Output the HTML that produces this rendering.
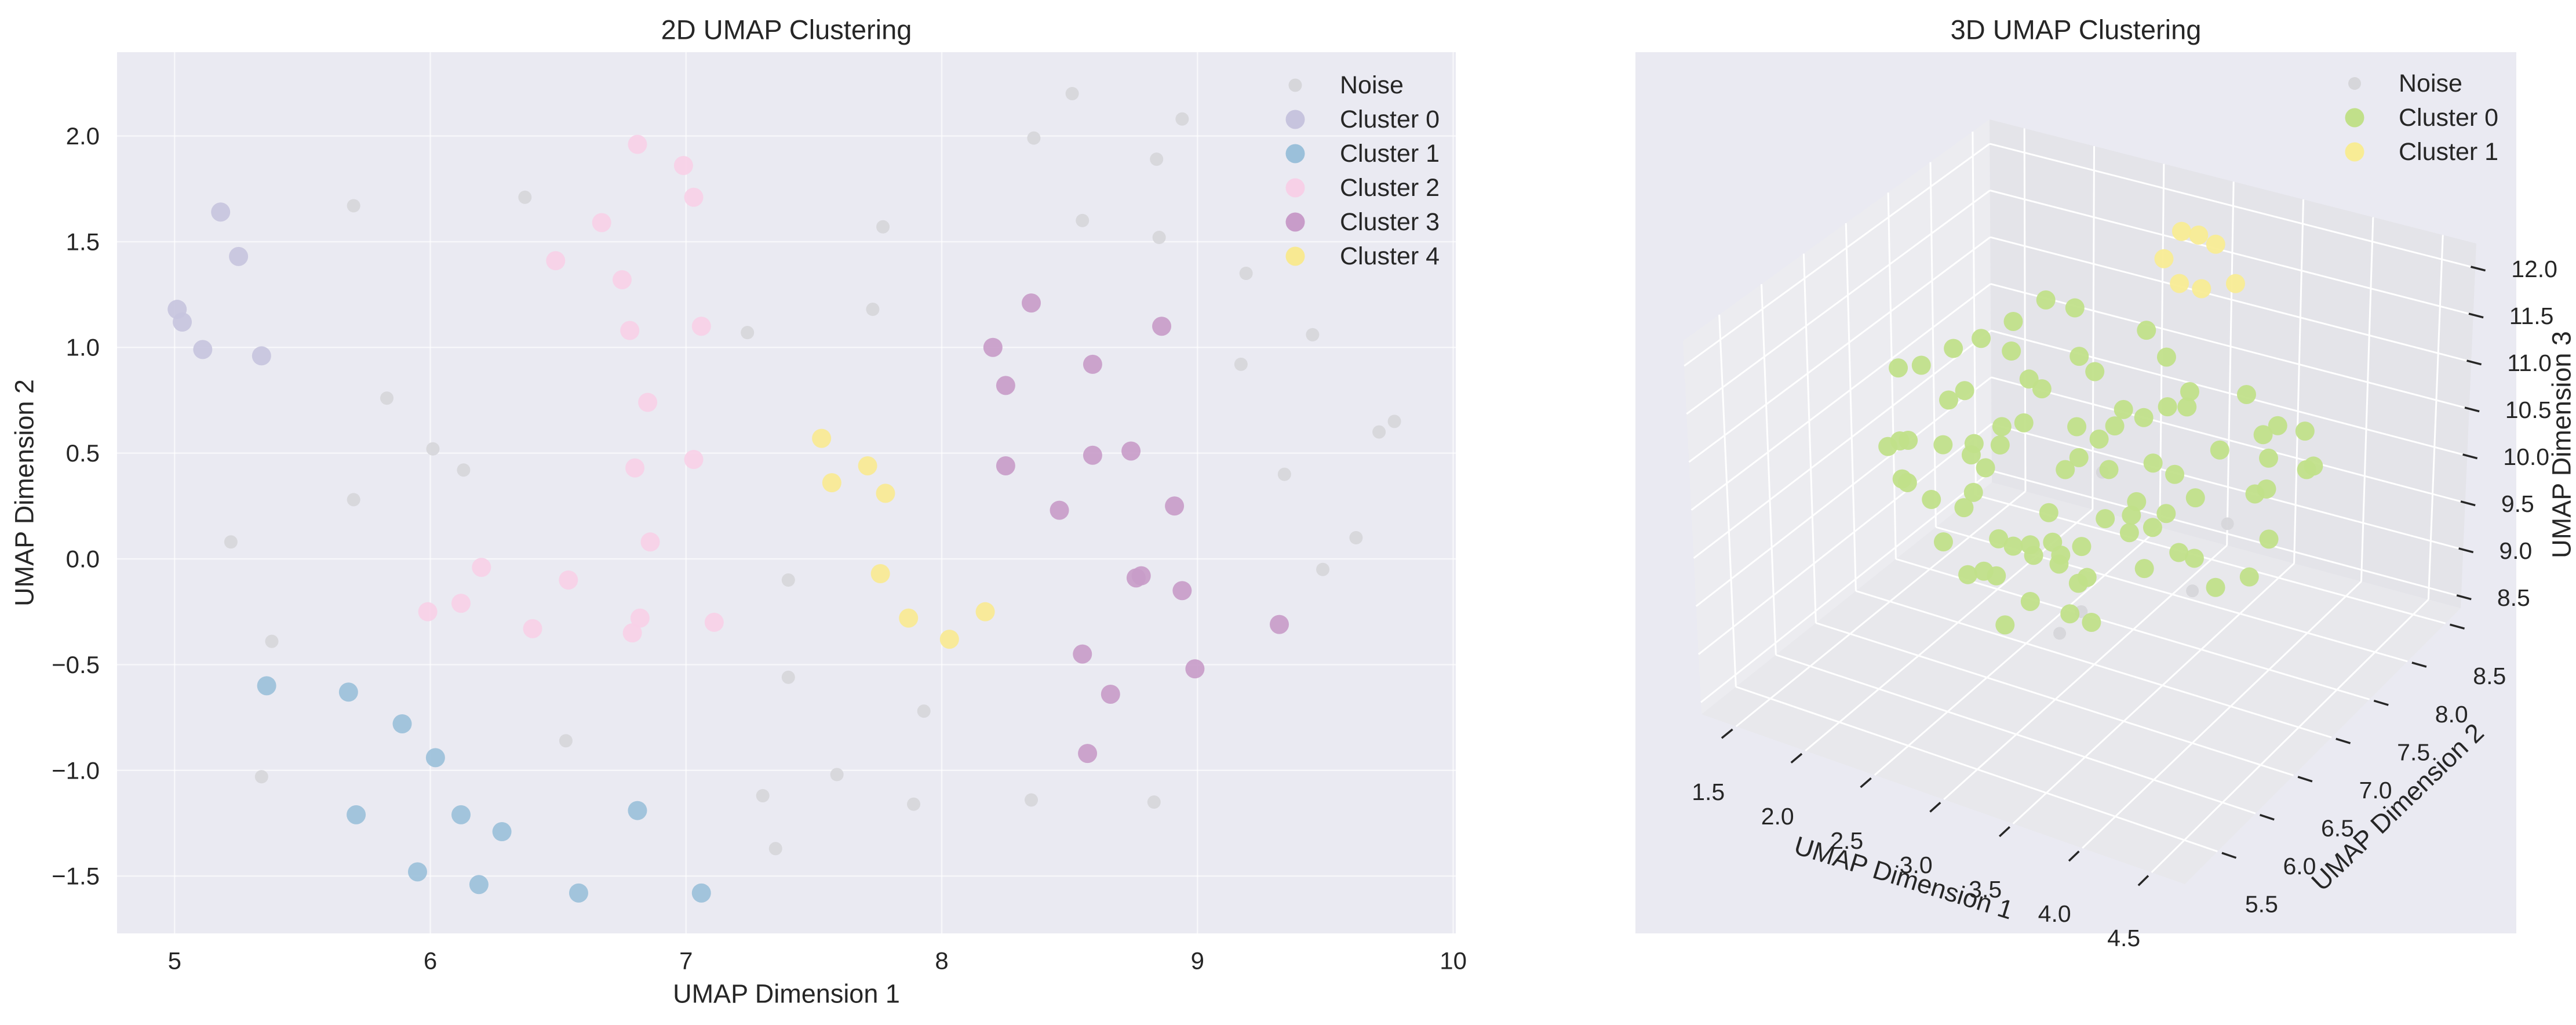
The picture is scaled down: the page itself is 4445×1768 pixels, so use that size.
<!DOCTYPE html>
<html><head><meta charset="utf-8"><title>UMAP Clustering</title>
<style>
html,body{margin:0;padding:0;background:#fff;}
svg{display:block;font-family:"Liberation Sans",sans-serif;}
</style></head>
<body>
<svg id="fig" width="4445" height="1768" viewBox="0 0 4445 1768" xmlns="http://www.w3.org/2000/svg">
  <rect x="0" y="0" width="4445" height="1768" fill="#ffffff"/>
  <g id="left"></g>
  <g id="right"></g>
</svg>
<script>
// ---------- 2D data ----------
const noiseX = [8.51,8.94,8.36,8.84,6.37,5.70,7.77,8.55,8.85,9.19,7.73,7.24,9.45,9.17,9.71,9.77,5.83,6.01,6.13,5.70,9.34,5.22,9.62,9.49,7.40,5.38,7.40,7.93,6.53,5.34,7.59,7.30,7.89,8.35,8.83,7.35];
const noiseY = [2.20,2.08,1.99,1.89,1.71,1.67,1.57,1.60,1.52,1.35,1.18,1.07,1.06,0.92,0.60,0.65,0.76,0.52,0.42,0.28,0.40,0.08,0.10,-0.05,-0.10,-0.39,-0.56,-0.72,-0.86,-1.03,-1.02,-1.12,-1.16,-1.14,-1.15,-1.37];
const c0X = [5.18,5.25,5.01,5.03,5.11,5.34];
const c0Y = [1.64,1.43,1.18,1.12,0.99,0.96];
const c1X = [5.36,5.68,5.89,6.02,5.71,6.12,6.28,6.81,5.95,6.19,6.58,7.06];
const c1Y = [-0.60,-0.63,-0.78,-0.94,-1.21,-1.21,-1.29,-1.19,-1.48,-1.54,-1.58,-1.58];
const c2X = [6.81,6.99,7.03,6.67,6.49,6.75,6.78,7.06,6.85,6.80,7.03,6.86,6.20,6.54,5.99,6.12,6.40,6.82,6.79,7.11];
const c2Y = [1.96,1.86,1.71,1.59,1.41,1.32,1.08,1.10,0.74,0.43,0.47,0.08,-0.04,-0.10,-0.25,-0.21,-0.33,-0.28,-0.35,-0.30];
const c3X = [8.35,8.86,8.20,8.59,8.25,8.59,8.74,8.25,8.46,8.91,8.76,8.78,8.94,9.32,8.55,8.99,8.66,8.57];
const c3Y = [1.21,1.10,1.00,0.92,0.82,0.49,0.51,0.44,0.23,0.25,-0.09,-0.08,-0.15,-0.31,-0.45,-0.52,-0.64,-0.92];
const c4X = [7.53,7.57,7.71,7.78,7.76,7.87,8.17,8.03];
const c4Y = [0.57,0.36,0.44,0.31,-0.07,-0.28,-0.25,-0.38];
const xTicks2 = [5,6,7,8,9,10];
const yTicks2 = [-1.5,-1.0,-0.5,0.0,0.5,1.0,1.5,2.0];
const legend2 = ["Noise","Cluster 0","Cluster 1","Cluster 2","Cluster 3","Cluster 4"];

// ---------- 3D data ----------
const g3X = [2.75,2.92,2.50,2.10,2.24,2.49,1.66,1.85,3.42,2.99,3.58,2.62,3.06,2.17,2.03,2.67,4.17,3.74,3.60,3.71,3.31,3.42,2.58,2.93,2.41,3.13,3.19,1.59,1.66,1.75,1.96,2.22,2.39,2.21,4.36,4.28,4.57,3.94,3.51,2.95,2.30,2.84,3.20,4.31,4.64,4.57,1.70,1.72,3.62,2.21,1.88,3.82,4.20,4.31,3.37,2.76,2.11,3.35,3.15,3.56,2.40,3.48,3.33,1.95,2.50,2.60,2.78,4.31,2.63,2.85,2.95,2.82,3.67,3.81,3.41,2.16,2.26,2.38,3.00,2.96,4.19,3.92,2.62,2.88,3.06,2.41];
const g3Y = [6.85,6.91,6.88,6.83,6.93,6.87,6.90,6.86,6.92,6.84,6.89,6.86,6.91,6.84,6.88,6.93,6.85,6.90,6.87,6.92,6.83,6.89,6.86,6.91,6.88,6.84,6.93,6.87,6.90,6.85,6.92,6.86,6.89,6.84,6.91,6.87,6.88,6.93,6.85,6.90,6.86,6.92,6.84,6.89,6.87,6.91,6.85,6.88,6.93,6.86,6.90,6.84,6.92,6.87,6.89,6.85,6.91,6.86,6.88,6.93,6.84,6.90,6.87,6.92,6.85,6.89,6.86,6.91,6.88,6.84,6.93,6.87,6.90,6.85,6.92,6.86,6.89,6.84,6.91,6.87,6.88,6.93,6.85,6.90,6.86,6.89];
const g3Z = [12.22,12.17,11.86,11.43,11.53,11.55,10.98,11.12,12.15,11.74,11.96,11.32,11.56,11.01,10.82,11.19,11.86,11.66,11.46,11.47,11.33,11.25,10.84,10.92,10.71,10.93,11.03,10.14,10.21,10.29,10.29,10.46,10.50,10.35,11.57,11.47,11.63,11.11,10.84,10.61,10.24,10.42,10.64,11.22,11.30,11.20,9.86,9.81,10.71,9.94,9.69,10.62,10.77,10.91,10.34,9.98,9.70,10.21,10.07,10.27,9.55,10.11,10.01,9.26,9.51,9.54,9.67,10.35,9.45,9.58,9.65,9.45,9.93,9.97,9.63,9.05,9.11,9.15,9.36,9.31,9.92,9.65,8.98,8.93,8.95,8.61];
const n3X = [3.13,4.04,3.77,2.98,2.81];
const n3Y = [6.88,6.86,6.90,6.87,6.89];
const n3Z = [10.55,10.43,9.57,9.02,8.70];
const y3X = [2.93,3.04,3.18,2.80,2.93,3.06,3.32];
const y3Y = [8.19,8.21,8.18,8.20,8.17,8.22,8.19];
const y3Z = [12.07,12.06,12.04,11.72,11.53,11.49,11.67];
const xTicks3 = [1.5,2.0,2.5,3.0,3.5,4.0,4.5];
const yTicks3 = [5.5,6.0,6.5,7.0,7.5,8.0,8.5];
const zTicks3 = [8.5,9.0,9.5,10.0,10.5,11.0,11.5,12.0];
const legend3 = ["Noise","Cluster 0","Cluster 1"];

const NS = "http://www.w3.org/2000/svg";
function mk(tag, attrs, parent){
  const e = document.createElementNS(NS, tag);
  for (const k in attrs) e.setAttribute(k, attrs[k]);
  parent.appendChild(e);
  return e;
}
const TXT = "#262626";

// ================= 2D chart =================
const L = document.getElementById('left');
const AX = {x0:202, x1:2512, y0:90, y1:1610};
const XL2 = [4.775, 10.01], YL2 = [-1.771, 2.396];
function sx(v){ return AX.x0 + (v - XL2[0]) / (XL2[1] - XL2[0]) * (AX.x1 - AX.x0); }
function sy(v){ return AX.y1 - (v - YL2[0]) / (YL2[1] - YL2[0]) * (AX.y1 - AX.y0); }

let el = mk('rect', {x:AX.x0, y:AX.y0, width:AX.x1-AX.x0, height:AX.y1-AX.y0, fill:'#eaeaf2'}, L);



xTicks2.forEach(t => {
  const g = mk('line', {x1:sx(t), x2:sx(t), y1:AX.y0, y2:AX.y1, stroke:'#ffffff', 'stroke-width':2.5, 'stroke-opacity':0.6}, L);
  
  
  const tl = mk('text', {x:sx(t), y:1657, 'font-size':42, fill:TXT, 'text-anchor':'middle', 'dominant-baseline':'central'}, L);
  tl.textContent = String(t);
  
  
});
yTicks2.forEach(t => {
  const g = mk('line', {x1:AX.x0, x2:AX.x1, y1:sy(t), y2:sy(t), stroke:'#ffffff', 'stroke-width':2.5, 'stroke-opacity':0.6}, L);
  
  
  const tl = mk('text', {x:172, y:sy(t), 'font-size':42, fill:TXT, 'text-anchor':'end', 'dominant-baseline':'central'}, L);
  tl.textContent = t.toFixed(1).replace('-', '\u2212');
  
  
});

const series2 = [
  {xs:noiseX, ys:noiseY, r:11.5, fill:'#d6d6da', name:'noise-point'},
  {xs:c0X, ys:c0Y, r:16.5, fill:'#c7c4de', name:'cluster-0-point'},
  {xs:c1X, ys:c1Y, r:16.5, fill:'#9bc0da', name:'cluster-1-point'},
  {xs:c2X, ys:c2Y, r:16.5, fill:'#f7d0e7', name:'cluster-2-point'},
  {xs:c3X, ys:c3Y, r:16.5, fill:'#c89cc9', name:'cluster-3-point'},
  {xs:c4X, ys:c4Y, r:16.5, fill:'#f8e992', name:'cluster-4-point'}
];
series2.forEach(s => {
  s.xs.forEach((xv, i) => {
    const c = mk('circle', {cx:sx(xv), cy:sy(s.ys[i]), r:s.r, fill:s.fill, 'fill-opacity':0.92}, L);
    
    
  });
});

legend2.forEach((lab, i) => {
  const y = 147 + i * 59;
  const m = mk('circle', {cx:2235, cy:y, r:series2[i].r, fill:series2[i].fill}, L);
  
  
  const t = mk('text', {x:2312, y:y, 'font-size':43, fill:TXT, 'dominant-baseline':'central'}, L);
  t.textContent = lab;
  
  
});

el = mk('text', {x:1357, y:51, 'font-size':47, fill:TXT, 'text-anchor':'middle', 'dominant-baseline':'central'}, L);
el.textContent = '2D UMAP Clustering';


el = mk('text', {x:1357, y:1714, 'font-size':45, fill:TXT, 'text-anchor':'middle', 'dominant-baseline':'central'}, L);
el.textContent = 'UMAP Dimension 1';


el = mk('text', {x:0, y:0, 'font-size':45, fill:TXT, 'text-anchor':'middle', 'dominant-baseline':'central', transform:'translate(42,850) rotate(-90)'}, L);
el.textContent = 'UMAP Dimension 2';



// ================= 3D chart =================
const R = document.getElementById('right');
el = mk('rect', {x:2822, y:90, width:1520, height:1520, fill:'#eaeaf2'}, R);



const XL3 = [1.25, 4.74], YL3 = [5.07, 8.70], ZL3 = [8.376, 12.26];
const K = {A:[2936,1232], B:[3770,1525], C:[4246,1049], D:[3437,832],
           A2:[2904,588], B2:[3770,885], C2:[4273,420], D2:[3433,206]};
function proj(x, y, z){
  const u = (x - XL3[0]) / (XL3[1] - XL3[0]);
  const v = (y - YL3[0]) / (YL3[1] - YL3[0]);
  const w = (z - ZL3[0]) / (ZL3[1] - ZL3[0]);
  const bl = (a,b,c,d,k) => a[k]*(1-u)*(1-v) + b[k]*u*(1-v) + c[k]*u*v + d[k]*(1-u)*v;
  const bx = bl(K.A,K.B,K.C,K.D,0), by = bl(K.A,K.B,K.C,K.D,1);
  const tx = bl(K.A2,K.B2,K.C2,K.D2,0), ty = bl(K.A2,K.B2,K.C2,K.D2,1);
  return [bx*(1-w) + tx*w, by*(1-w) + ty*w];
}
function poly(pts, fill, name){
  const p = mk('polygon', {points: pts.map(q => q.join(',')).join(' '), fill: fill}, R);
  
  
}
const [x0,x1] = XL3, [y0,y1] = YL3, [z0,z1] = ZL3;
poly([proj(x0,y0,z0),proj(x1,y0,z0),proj(x1,y1,z0),proj(x0,y1,z0)], '#e8e8ec', 'floor-pane');
poly([proj(x0,y0,z0),proj(x0,y1,z0),proj(x0,y1,z1),proj(x0,y0,z1)], '#ececf0', 'left-pane');
poly([proj(x0,y1,z0),proj(x1,y1,z0),proj(x1,y1,z1),proj(x0,y1,z1)], '#e4e4e9', 'back-pane');

function seg(p, q, name, stroke, sw){
  const l = mk('line', {x1:p[0], y1:p[1], x2:q[0], y2:q[1], stroke:stroke, 'stroke-width':sw}, R);
  
  
}
xTicks3.forEach(t => {
  seg(proj(t,y0,z0), proj(t,y1,z0), 'floor-x-gridline', '#fff', 3);
  seg(proj(t,y1,z0), proj(t,y1,z1), 'back-x-gridline', '#fff', 3);
});
yTicks3.forEach(t => {
  seg(proj(x0,t,z0), proj(x1,t,z0), 'floor-y-gridline', '#fff', 3);
  seg(proj(x0,t,z0), proj(x0,t,z1), 'left-y-gridline', '#fff', 3);
});
zTicks3.forEach(t => {
  seg(proj(x0,y0,t), proj(x0,y1,t), 'left-z-gridline', '#fff', 3);
  seg(proj(x0,y1,t), proj(x1,y1,t), 'back-z-gridline', '#fff', 3);
});

function unit(p, q){ const dx = p[0]-q[0], dy = p[1]-q[1], n = Math.hypot(dx,dy); return [dx/n, dy/n]; }
xTicks3.forEach(t => {
  const P = proj(t,y0,z0), d = unit(P, proj(t,y0+1,z0));
  seg([P[0]+d[0]*8, P[1]+d[1]*8], [P[0]+d[0]*32, P[1]+d[1]*32], 'x3-tick', TXT, 3.5);
  const tl = mk('text', {x:P[0]-48, y:P[1]+113, 'font-size':41, fill:TXT, 'text-anchor':'middle', 'dominant-baseline':'central'}, R);
  tl.textContent = t.toFixed(1);
  
  
});
yTicks3.forEach(t => {
  const P = proj(x1,t,z0), d = unit(P, proj(x1-1,t,z0));
  seg([P[0]+d[0]*8, P[1]+d[1]*8], [P[0]+d[0]*34, P[1]+d[1]*34], 'y3-tick', TXT, 3.5);
  const tl = mk('text', {x:P[0]+76, y:P[1]+91, 'font-size':41, fill:TXT, 'text-anchor':'middle', 'dominant-baseline':'central'}, R);
  tl.textContent = t.toFixed(1);
  
  
});
zTicks3.forEach(t => {
  const P = proj(x1,y1,t), d = unit(P, proj(x1-1,y1,t));
  seg([P[0]-d[0]*8, P[1]-d[1]*8], [P[0]+d[0]*18, P[1]+d[1]*18], 'z3-tick', TXT, 3.5);
  const tl = mk('text', {x:P[0]+62, y:P[1]+2, 'font-size':41, fill:TXT, 'text-anchor':'start', 'dominant-baseline':'central'}, R);
  tl.textContent = t.toFixed(1);
  
  
});

const series3 = [
  {xs:n3X, ys:n3Y, zs:n3Z, r:11, fill:'#d6d6da', name:'noise-3d-point'},
  {xs:g3X, ys:g3Y, zs:g3Z, r:16.5, fill:'#c1e08a', name:'cluster-0-3d-point'},
  {xs:y3X, ys:y3Y, zs:y3Z, r:16.5, fill:'#f8ec95', name:'cluster-1-3d-point'}
];
series3.forEach(s => {
  s.xs.forEach((xv, i) => {
    const p = proj(xv, s.ys[i], s.zs[i]);
    const c = mk('circle', {cx:p[0], cy:p[1], r:s.r, fill:s.fill, 'fill-opacity':0.95}, R);
    
    
  });
});

legend3.forEach((lab, i) => {
  const y = 144 + i * 59;
  const m = mk('circle', {cx:4063, cy:y, r:series3[i].r, fill:series3[i].fill}, R);
  
  
  const t = mk('text', {x:4139, y:y, 'font-size':43, fill:TXT, 'dominant-baseline':'central'}, R);
  t.textContent = lab;
  
  
});

el = mk('text', {x:3582, y:51, 'font-size':47, fill:TXT, 'text-anchor':'middle', 'dominant-baseline':'central'}, R);
el.textContent = '3D UMAP Clustering';


el = mk('text', {x:0, y:0, 'font-size':45, fill:TXT, 'text-anchor':'middle', 'dominant-baseline':'central', transform:'translate(3285,1514) rotate(17)'}, R);
el.textContent = 'UMAP Dimension 1';


el = mk('text', {x:0, y:0, 'font-size':45, fill:TXT, 'text-anchor':'middle', 'dominant-baseline':'central', transform:'translate(4137,1392) rotate(-44)'}, R);
el.textContent = 'UMAP Dimension 2';


el = mk('text', {x:0, y:0, 'font-size':45, fill:TXT, 'text-anchor':'middle', 'dominant-baseline':'central', transform:'translate(4420,767) rotate(-90)'}, R);
el.textContent = 'UMAP Dimension 3';


</script>
</body></html>
